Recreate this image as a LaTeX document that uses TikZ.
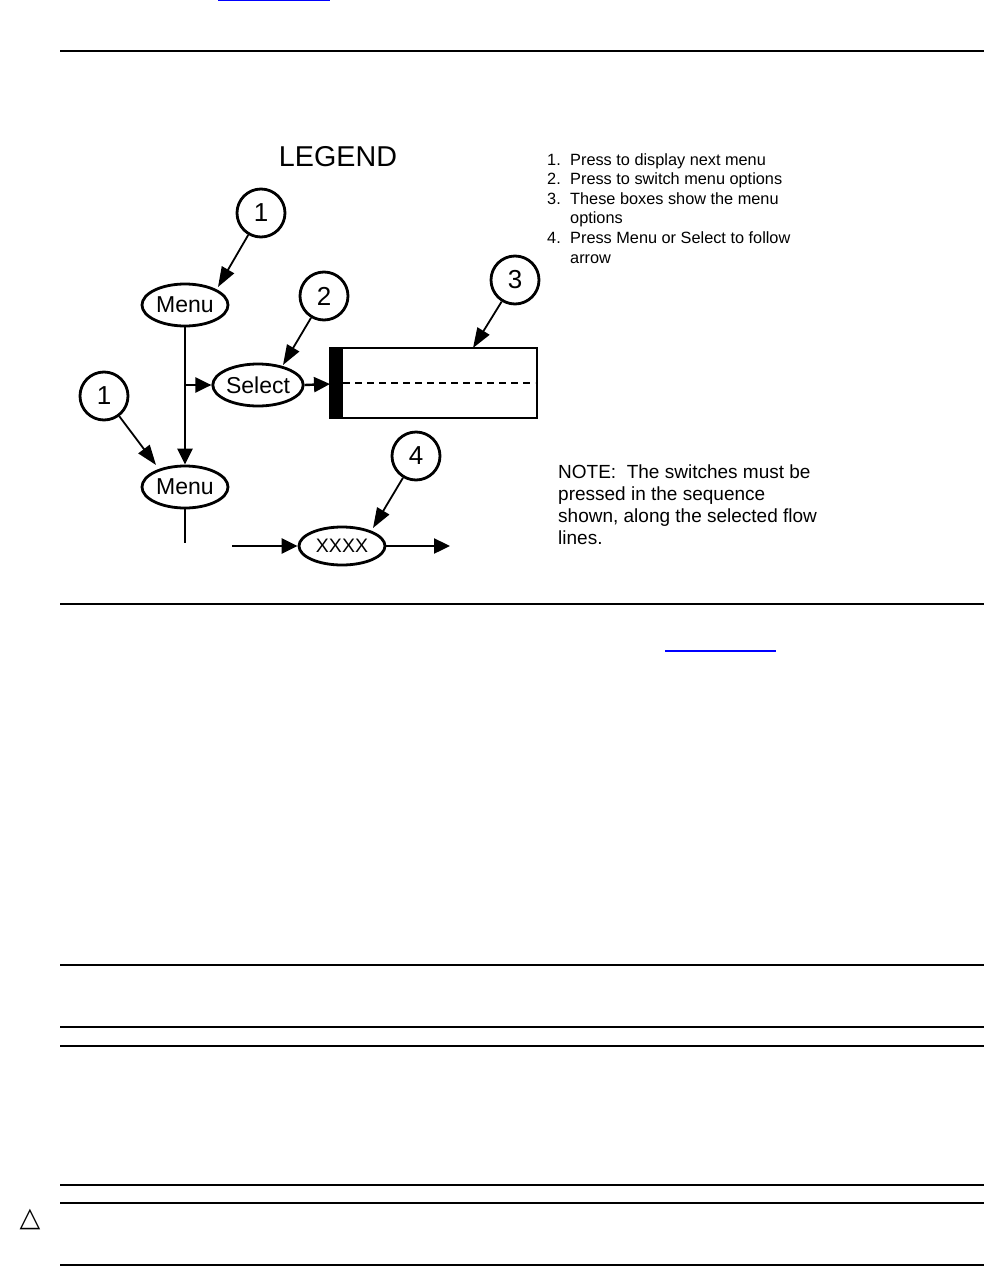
\documentclass[tikz,border=0pt]{standalone}
\usepackage{fontspec}
\setmainfont{Liberation Sans}
\newfontfamily\symfont{DejaVu Sans}
\usetikzlibrary{shapes.geometric,arrows.meta}
\tikzset{
  oval/.style={draw, ellipse, line width=2.8pt, minimum width=86pt, minimum height=42pt, inner sep=0pt, font=\fontsize{23}{23}\selectfont},
  callout/.style={draw, circle, line width=2.8pt, minimum size=48pt, inner sep=0pt, font=\fontsize{26}{26}\selectfont},
  flow/.style={line width=2.4pt, -{Triangle[length=16pt,width=15pt]}},
  plainflow/.style={line width=2.4pt},
  leader/.style={line width=1.8pt, -{Triangle[length=20pt,width=14pt]}},
  rule/.style={line width=1.2pt},
  thickrule/.style={line width=2.6pt},
  listtxt/.style={anchor=base west, inner sep=0pt, font=\fontsize{16.3}{16.3}\selectfont},
  notetxt/.style={anchor=base west, inner sep=0pt, font=\fontsize{19}{19}\selectfont},
}
\begin{document}
\begin{tikzpicture}[x=1pt,y=-1pt]
\useasboundingbox (0,0) rectangle (984,1266);
% page rules
\draw[blue, line width=1.4pt] (218,0.7) -- (330,0.7);
\draw[thickrule] (60,51) -- (984,51);
\draw[thickrule] (60,604) -- (984,604);
\draw[blue, line width=1.4pt] (665,651) -- (776,651);
\foreach \yy in {965,1027,1046,1185,1203,1265}
  \draw[rule] (60,\yy) -- (984,\yy);
\node[inner sep=0pt, font=\symfont\fontsize{27}{27}\selectfont] (tri) at (30,1219) {△};

% legend title
\node[inner sep=0pt, font=\fontsize{28.7}{28.7}\selectfont] (legend) at (338,157) {LEGEND};

% flow nodes
\node[oval] (menu1) at (185,305) {Menu};
\node[oval] (select) at (258,385) {Select};
\node[oval] (menu2) at (185,487) {Menu};
\node[oval, minimum height=38pt, font=\fontsize{19.5}{19.5}\selectfont] (xxxx) at (342,546) {XXXX};

% display box
\draw[line width=2.8pt] (330,348) rectangle (537,418);
\fill (330,348) rectangle (343,418);
\coordinate (boxin) at (330,384);
\draw[line width=1.3pt, dash pattern=on 7pt off 5pt] (343,383) -- (535,383);

% callouts
\node[callout] (c1a) at (261,213) {1};
\node[callout] (c2) at (324,296) {2};
\node[callout] (c3) at (515,280) {3};
\node[callout] (c1b) at (104,396) {1};
\node[callout] (c4) at (416,456) {4};

% leader targets
\coordinate (t1a) at (218,287);
\coordinate (t2) at (283,365);
\coordinate (t3) at (473,348);
\coordinate (t1b) at (156,465);
\coordinate (t4) at (373,528);
\draw[leader] (c1a) -- (t1a);
\draw[leader] (c2) -- (t2);
\draw[leader] (c3) -- (t3);
\draw[leader] (c1b) -- (t1b);
\draw[leader] (c4) -- (t4);

% flow lines
\coordinate (branch) at (185,385);
\draw[flow] (menu1.south) -- (menu2.north);
\draw[flow] (branch) -- (select.west);
\draw[flow] (select.east) -- (boxin);
\coordinate (m2end) at (185,543);
\draw[plainflow] (menu2.south) -- (m2end);
\coordinate (xin) at (232,546);
\coordinate (xout) at (450,546);
\draw[flow] (xin) -- (xxxx.west);
\draw[flow] (xxxx.east) -- (xout);

% list
\node[listtxt] (n1) at (547,165) {1.};
\node[listtxt] (l1) at (570,165) {Press to display next menu};
\node[listtxt] (n2) at (547,184.6) {2.};
\node[listtxt] (l2) at (570,184.6) {Press to switch menu options};
\node[listtxt] (n3) at (547,204.2) {3.};
\node[listtxt] (l3) at (570,204.2) {These boxes show the menu};
\node[listtxt] (l3b) at (570,223.8) {options};
\node[listtxt] (n4) at (547,243.4) {4.};
\node[listtxt] (l4) at (570,243.4) {Press Menu or Select to follow};
\node[listtxt] (l4b) at (570,263) {arrow};

% note
\node[notetxt] (note1) at (558,478.5) {NOTE:\ \ The switches must be};
\node[notetxt] (note2) at (558,500.5) {pressed in the sequence};
\node[notetxt] (note3) at (558,522.2) {shown, along the selected flow};
\node[notetxt] (note4) at (558,544) {lines.};
\end{tikzpicture}
\end{document}
